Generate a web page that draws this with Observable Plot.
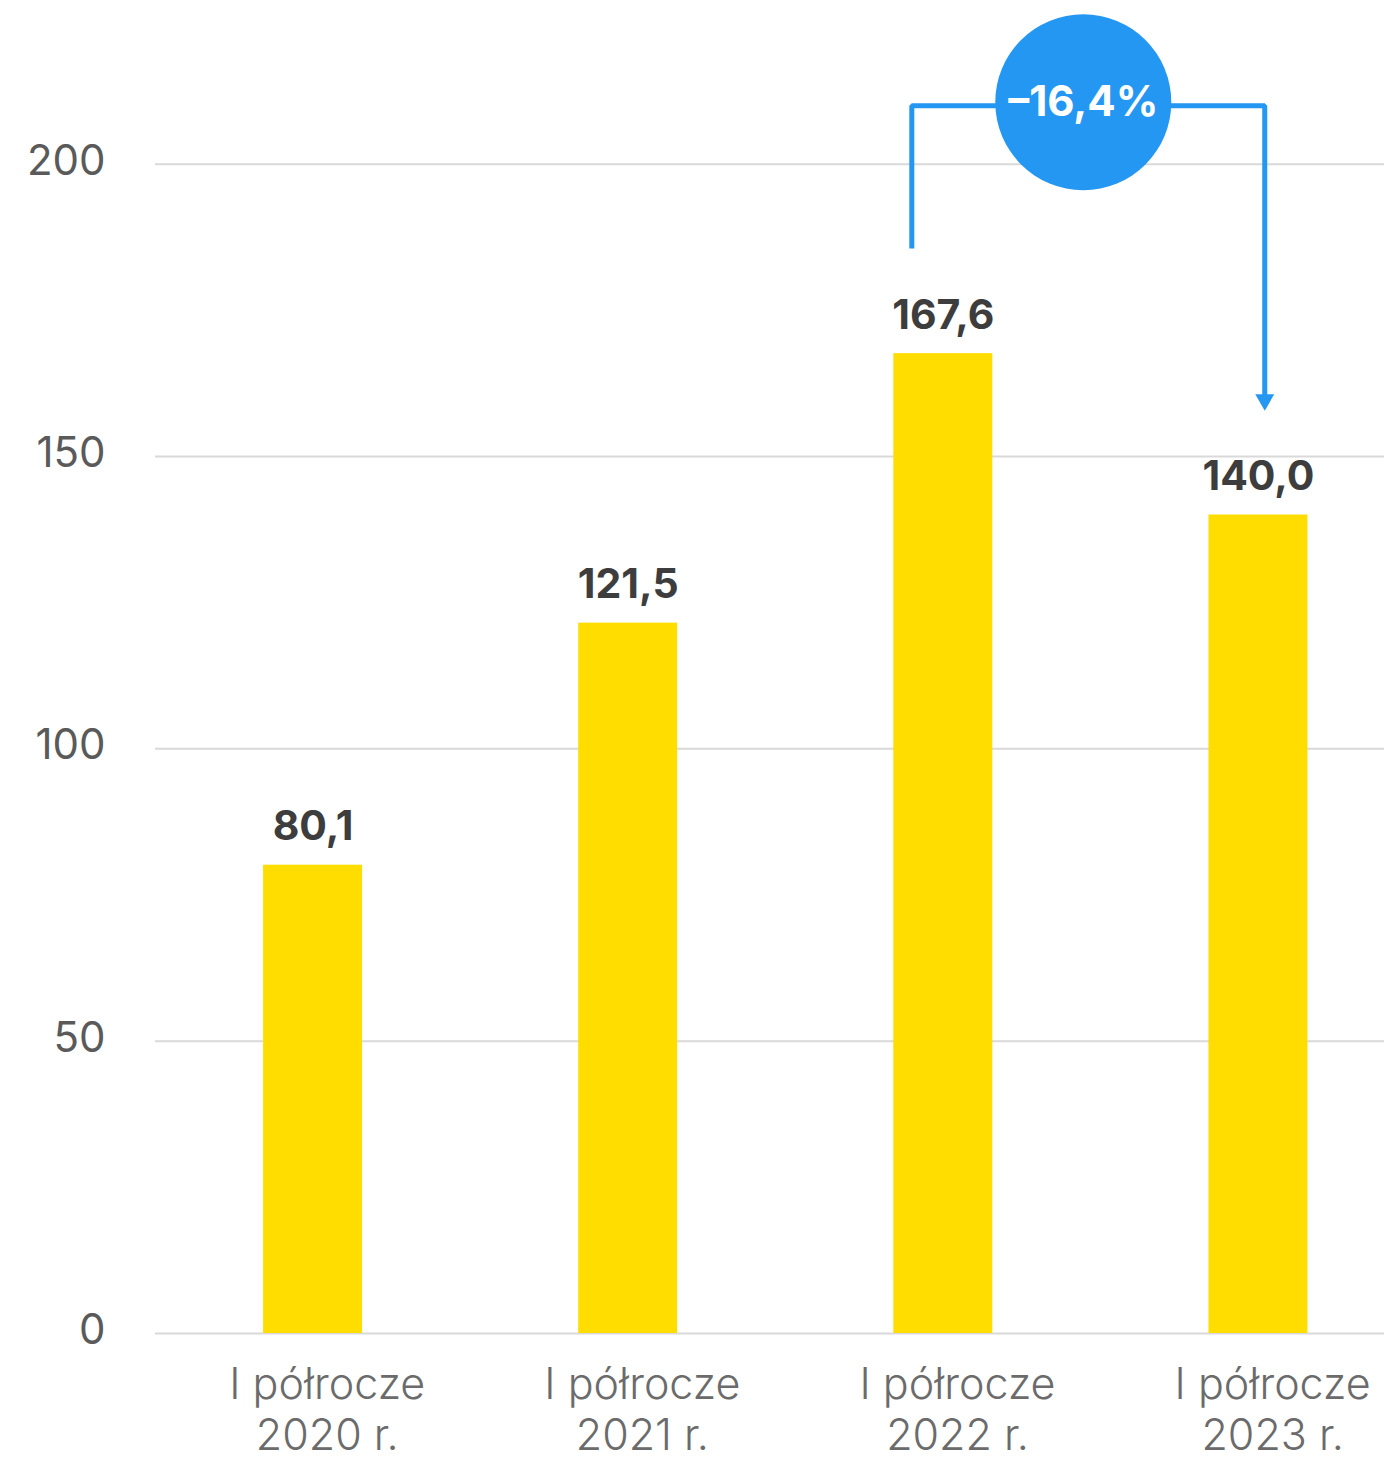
<!DOCTYPE html>
<html>
<head>
<meta charset="utf-8">
<script src="https://cdn.jsdelivr.net/npm/d3@7"></script>
<script src="https://cdn.jsdelivr.net/npm/@observablehq/plot@0.6"></script>
<style>
  html, body { margin: 0; padding: 0; background: #fff; }
  #chart svg { display: block; }
</style>
</head>
<body>
<div id="chart"></div>
<script>
// ---- data ----
const categories = ["I półrocze\n2020 r.", "I półrocze\n2021 r.", "I półrocze\n2022 r.", "I półrocze\n2023 r."];
const values = [80.1, 121.5, 167.6, 140.0];
const yTicks = [0, 50, 100, 150, 200];
const changeLabel = "–16,4%";
const changeFrom = 2; // index of 2022
const changeTo = 3;   // index of 2023

// ---- styles ----
const FONT = "Inter, 'Open Sans', sans-serif";
const YELLOW = "#FFDD00";
const BLUE = "#2497F2";
const halfBar = 0.157;
const bracketTop = 210;
const bracketGap = 18;

const data = categories.map((c, i) => ({i, label: c, value: values[i]}));
const fmt = v => d3.format(".1f")(v).replace(".", ",");

const xl = changeFrom - 0.1, xr = changeTo + 0.02;
const bracket = [
  {x: xl, y: values[changeFrom] + bracketGap},
  {x: xl, y: bracketTop},
  {x: xr, y: bracketTop},
  {x: xr, y: values[changeTo] + bracketGap + 2.3}
];
const badge = [{x: (xl + xr) / 2, y: bracketTop + 0.6}];

const chart = Plot.plot({
  width: 1384,
  height: 1462,
  marginLeft: 155,
  marginRight: 0,
  marginTop: 0,
  marginBottom: 129,
  style: {fontFamily: FONT, background: "#fff"},
  x: {type: "linear", domain: [-0.5, 3.4], axis: null},
  y: {domain: [0, 228], axis: null},
  marks: [
    Plot.ruleY(yTicks, {stroke: "#d9d9d9", strokeWidth: 2}),
    Plot.text(yTicks, {
      x: -0.5, y: d => d, text: d => String(d), textAnchor: "end", dx: -50, dy: -3,
      fontSize: 42, fill: "#5a5a5a", fontWeight: 400
    }),
    Plot.rectY(data, {x1: d => d.i - halfBar, x2: d => d.i + halfBar, y: "value", fill: YELLOW}),
    Plot.text(data, {
      x: "i", y: "value", text: d => fmt(d.value), dy: -25, lineAnchor: "bottom",
      fontSize: 41, fontWeight: 700, fill: "#3d3d3d"
    }),
    Plot.text(data, {
      x: d => d.i + 0.045, y: 0, text: "label", lineAnchor: "top", dy: 30, lineHeight: 1.17,
      fontSize: 43, fontWeight: 300, fill: "#6b6b6b"
    }),
    Plot.line(bracket, {x: "x", y: "y", stroke: BLUE, strokeWidth: 5, strokeLinejoin: "miter", strokeLinecap: "butt"}),
    Plot.dot([{x: xr, y: values[changeTo] + bracketGap + 1.7}], {
      x: "x", y: "y", symbol: "triangle2", rotate: 180, r: 9, fill: BLUE, stroke: "none"
    }),
    Plot.dot(badge, {x: "x", y: "y", dx: -5, r: 88, fill: BLUE, stroke: "none"}),
    Plot.text(badge, {
      x: "x", y: "y", dx: -5, text: () => changeLabel, fontSize: 42, fontWeight: 700, fill: "#fff"
    })
  ]
});
document.getElementById("chart").appendChild(chart);
</script>
</body>
</html>
